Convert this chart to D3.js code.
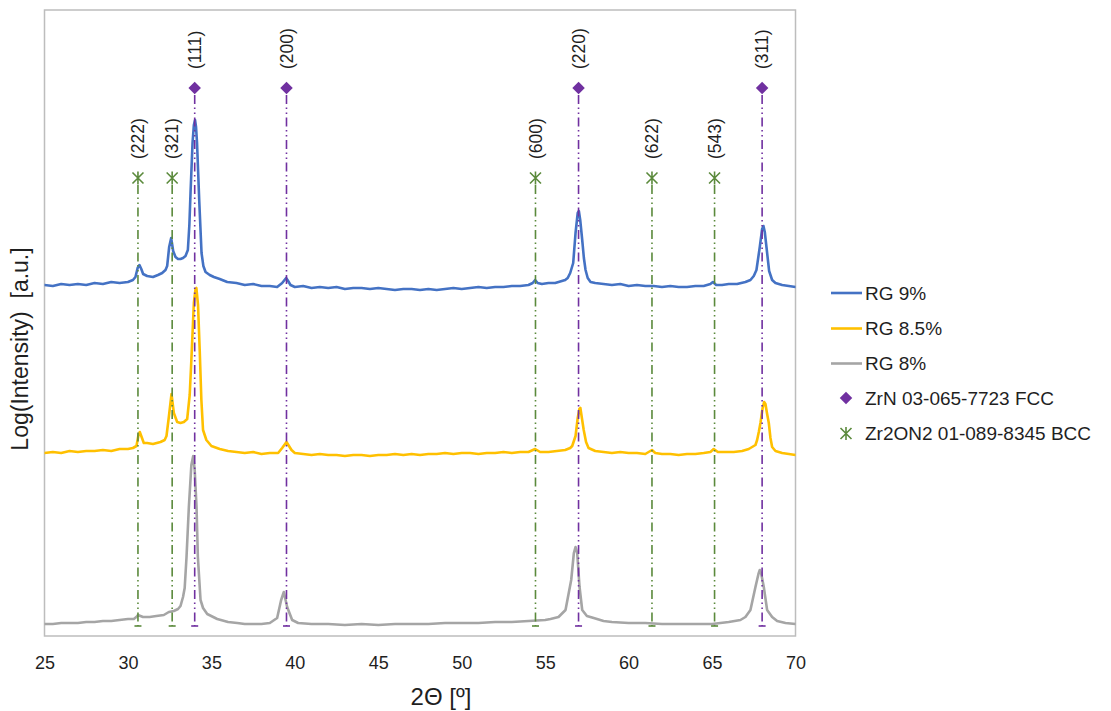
<!DOCTYPE html>
<html>
<head>
<meta charset="utf-8">
<script src="https://cdn.jsdelivr.net/npm/d3@7"></script>
<style>
  html, body { margin: 0; padding: 0; background: #ffffff; }
  svg { display: block; font-family: "Liberation Sans", Arial, sans-serif; }
  text { white-space: pre; }
</style>
</head>
<body>
<svg id="chart" width="1111" height="711"></svg>
<script>
// X-ray diffraction patterns, log(intensity) in arbitrary units, offset per sample
const xTicks = [25, 30, 35, 40, 45, 50, 55, 60, 65, 70];

// [2θ (deg), log intensity (a.u.)]
const rg9 = [
  [25.0,3.51],[25.5,3.50],[26.0,3.52],[26.5,3.51],[27.0,3.52],[27.5,3.51],[28.0,3.53],[28.5,3.52],
  [29.0,3.54],[29.5,3.53],[30.0,3.54],[30.3,3.56],[30.45,3.59],[30.58,3.68],[30.69,3.71],[30.8,3.67],
  [30.91,3.62],[31.15,3.60],[31.5,3.59],[31.8,3.61],[32.05,3.63],[32.25,3.66],[32.35,3.70],[32.47,3.89],
  [32.59,3.98],[32.71,3.85],[32.85,3.79],[33.0,3.77],[33.15,3.77],[33.3,3.78],[33.45,3.80],[33.59,3.86],
  [33.68,4.11],[33.75,4.43],[33.87,4.93],[33.95,5.11],[34.02,5.16],[34.08,5.09],[34.14,4.93],[34.27,4.36],
  [34.41,3.83],[34.52,3.70],[34.65,3.64],[34.9,3.61],[35.15,3.59],[35.5,3.57],[35.95,3.54],[36.5,3.53],
  [37.0,3.51],[37.5,3.52],[38.0,3.50],[38.5,3.50],[38.94,3.49],[39.24,3.53],[39.48,3.58],[39.6,3.55],
  [39.74,3.51],[40.0,3.49],[40.5,3.50],[41.0,3.48],[41.5,3.49],[42.0,3.48],[42.5,3.49],[43.0,3.47],
  [43.5,3.48],[44.0,3.48],[44.5,3.47],[45.0,3.48],[45.5,3.47],[46.0,3.46],[46.5,3.47],[47.0,3.47],
  [47.5,3.46],[48.0,3.47],[48.5,3.46],[49.0,3.47],[49.5,3.48],[50.0,3.47],[50.5,3.48],[51.0,3.49],
  [51.5,3.48],[52.0,3.49],[52.5,3.49],[53.0,3.50],[53.5,3.50],[54.0,3.51],[54.25,3.53],[54.4,3.56],
  [54.55,3.53],[54.8,3.52],[55.2,3.53],[55.6,3.53],[56.0,3.55],[56.2,3.56],[56.35,3.58],[56.5,3.63],
  [56.68,3.73],[56.82,4.03],[56.95,4.23],[57.02,4.25],[57.1,4.16],[57.22,3.96],[57.32,3.78],[57.42,3.66],
  [57.55,3.58],[57.72,3.54],[58.0,3.53],[58.5,3.52],[59.0,3.51],[59.5,3.52],[60.0,3.50],[60.5,3.51],
  [61.0,3.50],[61.5,3.50],[62.0,3.49],[62.5,3.50],[63.0,3.49],[63.5,3.49],[64.0,3.50],[64.5,3.50],
  [64.9,3.52],[65.05,3.54],[65.25,3.51],[65.6,3.51],[66.0,3.52],[66.5,3.52],[67.0,3.54],[67.3,3.56],
  [67.5,3.60],[67.66,3.66],[67.86,3.89],[68.0,4.07],[68.08,4.10],[68.16,4.04],[68.26,3.89],[68.42,3.65],
  [68.6,3.56],[68.8,3.53],[69.2,3.51],[69.6,3.50],[70.0,3.49]
];

const rg85 = [
  [25.0,1.83],[25.5,1.84],[26.0,1.83],[26.5,1.85],[27.0,1.84],[27.5,1.85],[28.0,1.85],[28.5,1.86],
  [29.0,1.85],[29.5,1.87],[30.0,1.87],[30.3,1.88],[30.51,1.90],[30.62,2.00],[30.71,2.04],[30.82,1.99],
  [30.95,1.93],[31.15,1.93],[31.5,1.92],[31.95,1.94],[32.2,1.96],[32.31,2.00],[32.45,2.19],[32.61,2.42],
  [32.75,2.23],[32.95,2.14],[33.15,2.13],[33.35,2.14],[33.55,2.17],[33.7,2.41],[33.8,2.76],[33.95,3.33],
  [34.05,3.47],[34.1,3.48],[34.2,3.31],[34.3,2.86],[34.4,2.36],[34.5,2.06],[34.7,1.96],[35.0,1.90],
  [35.5,1.87],[36.0,1.85],[36.5,1.84],[37.0,1.83],[37.5,1.84],[38.0,1.82],[38.5,1.83],[39.0,1.83],
  [39.24,1.88],[39.5,1.94],[39.65,1.90],[39.8,1.86],[40.0,1.83],[40.5,1.82],[41.0,1.81],[41.5,1.82],
  [42.0,1.81],[42.5,1.81],[43.0,1.80],[43.5,1.81],[44.0,1.81],[44.5,1.80],[45.0,1.81],[45.5,1.81],
  [46.0,1.82],[46.5,1.81],[47.0,1.82],[47.5,1.81],[48.0,1.82],[48.5,1.82],[49.0,1.83],[49.5,1.82],
  [50.0,1.83],[50.5,1.83],[51.0,1.82],[51.5,1.83],[52.0,1.83],[52.5,1.84],[53.0,1.83],[53.5,1.84],
  [54.0,1.84],[54.4,1.87],[54.7,1.84],[55.2,1.84],[55.7,1.85],[56.2,1.86],[56.5,1.88],[56.62,1.90],
  [56.82,2.00],[56.95,2.18],[57.05,2.27],[57.11,2.28],[57.2,2.18],[57.31,2.06],[57.45,1.94],[57.6,1.88],
  [58.0,1.85],[58.5,1.84],[59.0,1.83],[59.5,1.84],[60.0,1.83],[60.5,1.83],[61.0,1.82],[61.4,1.86],
  [61.6,1.83],[62.0,1.82],[62.5,1.82],[63.0,1.81],[63.5,1.82],[64.0,1.82],[64.5,1.83],[64.9,1.84],
  [65.1,1.87],[65.35,1.84],[65.8,1.84],[66.3,1.84],[66.8,1.85],[67.2,1.87],[67.5,1.90],[67.6,1.91],
  [67.7,1.96],[67.8,2.04],[67.9,2.13],[68.03,2.28],[68.12,2.34],[68.2,2.32],[68.3,2.22],[68.4,2.13],
  [68.5,1.98],[68.6,1.89],[68.8,1.85],[69.2,1.83],[69.6,1.82],[70.0,1.81]
];

const rg8 = [
  [25.0,0.12],[25.5,0.12],[26.0,0.13],[26.5,0.13],[27.0,0.13],[27.5,0.14],[28.0,0.14],[28.5,0.15],
  [29.0,0.15],[29.5,0.16],[30.0,0.17],[30.35,0.17],[30.5,0.19],[30.6,0.21],[30.75,0.20],[30.9,0.19],
  [31.3,0.19],[31.7,0.20],[32.15,0.21],[32.45,0.24],[32.75,0.25],[33.0,0.27],[33.15,0.30],[33.3,0.39],
  [33.4,0.48],[33.51,0.79],[33.65,1.29],[33.8,1.71],[33.91,1.80],[34.0,1.66],[34.11,1.29],[34.19,0.79],
  [34.35,0.36],[34.5,0.28],[34.75,0.22],[35.35,0.17],[36.0,0.14],[36.55,0.13],[37.0,0.12],[37.5,0.12],
  [38.0,0.12],[38.5,0.13],[38.94,0.18],[39.18,0.36],[39.34,0.44],[39.54,0.29],[39.84,0.16],[40.2,0.13],
  [41.0,0.12],[42.0,0.12],[43.0,0.11],[44.0,0.12],[45.0,0.11],[46.0,0.12],[47.0,0.12],[48.0,0.12],
  [49.0,0.13],[50.0,0.13],[51.0,0.13],[52.0,0.14],[53.0,0.14],[54.0,0.15],[55.0,0.16],[55.32,0.17],
  [55.8,0.19],[56.22,0.26],[56.56,0.56],[56.72,0.83],[56.82,0.89],[56.92,0.83],[57.06,0.49],[57.22,0.26],
  [57.5,0.20],[57.91,0.18],[58.5,0.15],[59.0,0.14],[60.0,0.13],[61.0,0.13],[62.0,0.12],[63.0,0.12],
  [64.0,0.12],[65.0,0.12],[66.0,0.14],[66.7,0.16],[67.0,0.19],[67.3,0.26],[67.6,0.49],[67.78,0.62],
  [67.86,0.66],[67.95,0.62],[68.1,0.49],[68.3,0.26],[68.6,0.19],[68.9,0.15],[69.4,0.13],[70.0,0.12]
];

// Reference reflections (ICDD cards)
const zrnPeaks = [34.0, 39.5, 57.0, 68.0];
const zrnHkl = ["(111)", "(200)", "(220)", "(311)"];
const zronPeaks = [30.6, 32.65, 54.42, 61.4, 65.15];
const zronHkl = ["(222)", "(321)", "(600)", "(622)", "(543)"];
const zrnLevel = 5.48;
const zronLevel = 4.58;
const refFloor = 0.10;

const seriesNames = ["RG 9%", "RG 8.5%", "RG 8%"];
const seriesColors = ["#4472C4", "#FFC000", "#A5A5A5"];
const refNames = ["ZrN 03-065-7723 FCC", "Zr2ON2 01-089-8345 BCC"];
const refColors = ["#7030A0", "#5B8A3C"];

const svg = d3.select("#chart");
const x = d3.scaleLinear().domain([25, 70]).range([44.5, 795.5]);
const y = d3.scaleLinear().domain([0, 6.26]).range([636, 10]);

// plot frame
svg.append("rect")
  .attr("x", x(25)).attr("y", y(6.26))
  .attr("width", x(70) - x(25)).attr("height", y(0) - y(6.26))
  .attr("fill", "none").attr("stroke", "#BDBDBD").attr("stroke-width", 1.5);

svg.append("clipPath").attr("id", "plotClip").append("rect")
  .attr("x", x(25)).attr("y", y(6.26))
  .attr("width", x(70) - x(25)).attr("height", y(0) - y(6.26));

// x axis labels (no tick marks)
const xAxis = svg.append("g")
  .attr("transform", `translate(0,${y(0)})`)
  .call(d3.axisBottom(x).tickValues(xTicks).tickSize(0).tickPadding(20).tickFormat(d3.format("d")));
xAxis.select(".domain").remove();
xAxis.selectAll("text").attr("font-size", 18).attr("fill", "#1f1f1f")
  .attr("font-family", "'Liberation Sans', Arial, sans-serif");

// axis titles
svg.append("text").attr("x", 441).attr("y", 705).attr("text-anchor", "middle")
  .attr("font-size", 24).attr("fill", "#1f1f1f").text("2Θ [º]");
svg.append("text").attr("transform", "translate(28,349) rotate(-90)").attr("text-anchor", "middle")
  .attr("font-size", 23).attr("fill", "#1f1f1f").text("Log(Intensity)  [a.u.]");

// diffraction patterns
const line = d3.line().x(d => x(d[0])).y(d => y(d[1]));
const plot = svg.append("g").attr("clip-path", "url(#plotClip)");
[rg9, rg85, rg8].forEach((s, i) => {
  plot.append("path").datum(s)
    .attr("d", line)
    .attr("fill", "none")
    .attr("stroke", seriesColors[i])
    .attr("stroke-width", 2.6)
    .attr("stroke-linejoin", "round")
    .attr("stroke-linecap", "round");
});

// reference reflections: drop lines, markers and Miller indices
const diamond = d3.symbol(d3.symbolSquare, 78);
const starPath = "M-5.5,-5.5L5.5,5.5M-5.5,5.5L5.5,-5.5M0,-6.5L0,6.5";
const refSets = [
  { peaks: zrnPeaks, hkl: zrnHkl, level: zrnLevel, color: refColors[0], kind: "diamond" },
  { peaks: zronPeaks, hkl: zronHkl, level: zronLevel, color: refColors[1], kind: "star" }
];
refSets.forEach(set => {
  const g = svg.append("g");
  const items = set.peaks.map((p, i) => ({ p, hkl: set.hkl[i] }));
  g.selectAll("line.drop").data(items).join("line")
    .attr("x1", d => x(d.p)).attr("x2", d => x(d.p))
    .attr("y1", y(set.level) + 7).attr("y2", y(refFloor))
    .attr("stroke", set.color).attr("stroke-width", 1.6)
    .attr("stroke-dasharray", "9,3.5,1.5,3.5,1.5,3.5");
  g.selectAll("line.cap").data(items).join("line")
    .attr("x1", d => x(d.p) - 3.5).attr("x2", d => x(d.p) + 3.5)
    .attr("y1", y(refFloor)).attr("y2", y(refFloor))
    .attr("stroke", set.color).attr("stroke-width", 1.6);
  if (set.kind === "diamond") {
    g.selectAll("path.mk").data(items).join("path")
      .attr("d", diamond)
      .attr("transform", d => `translate(${x(d.p)},${y(set.level)}) rotate(45)`)
      .attr("fill", set.color);
  } else {
    g.selectAll("path.mk").data(items).join("path")
      .attr("d", starPath)
      .attr("transform", d => `translate(${x(d.p)},${y(set.level)})`)
      .attr("fill", "none").attr("stroke", set.color).attr("stroke-width", 1.6);
  }
  g.selectAll("text").data(items).join("text")
    .attr("transform", d => `translate(${x(d.p)},${y(set.level) - 19}) rotate(-90)`)
    .attr("dy", "0.35em")
    .attr("font-size", 17.5).attr("fill", "#1f1f1f")
    .text(d => d.hkl);
});

// legend
const legend = svg.append("g");
const rowY = [293, 328.5, 363.5, 398, 433.5];
seriesNames.forEach((name, i) => {
  legend.append("line").attr("x1", 831).attr("x2", 862)
    .attr("y1", rowY[i]).attr("y2", rowY[i])
    .attr("stroke", seriesColors[i]).attr("stroke-width", 2.6);
  legend.append("text").attr("x", 865).attr("y", rowY[i]).attr("dy", "0.35em")
    .attr("font-size", 19).attr("fill", "#1f1f1f").text(name);
});
legend.append("path").attr("d", diamond)
  .attr("transform", `translate(846,${rowY[3]}) rotate(45)`).attr("fill", refColors[0]);
legend.append("path").attr("d", starPath)
  .attr("transform", `translate(846,${rowY[4]})`)
  .attr("fill", "none").attr("stroke", refColors[1]).attr("stroke-width", 1.6);
refNames.forEach((name, i) => {
  legend.append("text").attr("x", 865).attr("y", rowY[3 + i]).attr("dy", "0.35em")
    .attr("font-size", 19).attr("fill", "#1f1f1f").text(name);
});
</script>
</body>
</html>
